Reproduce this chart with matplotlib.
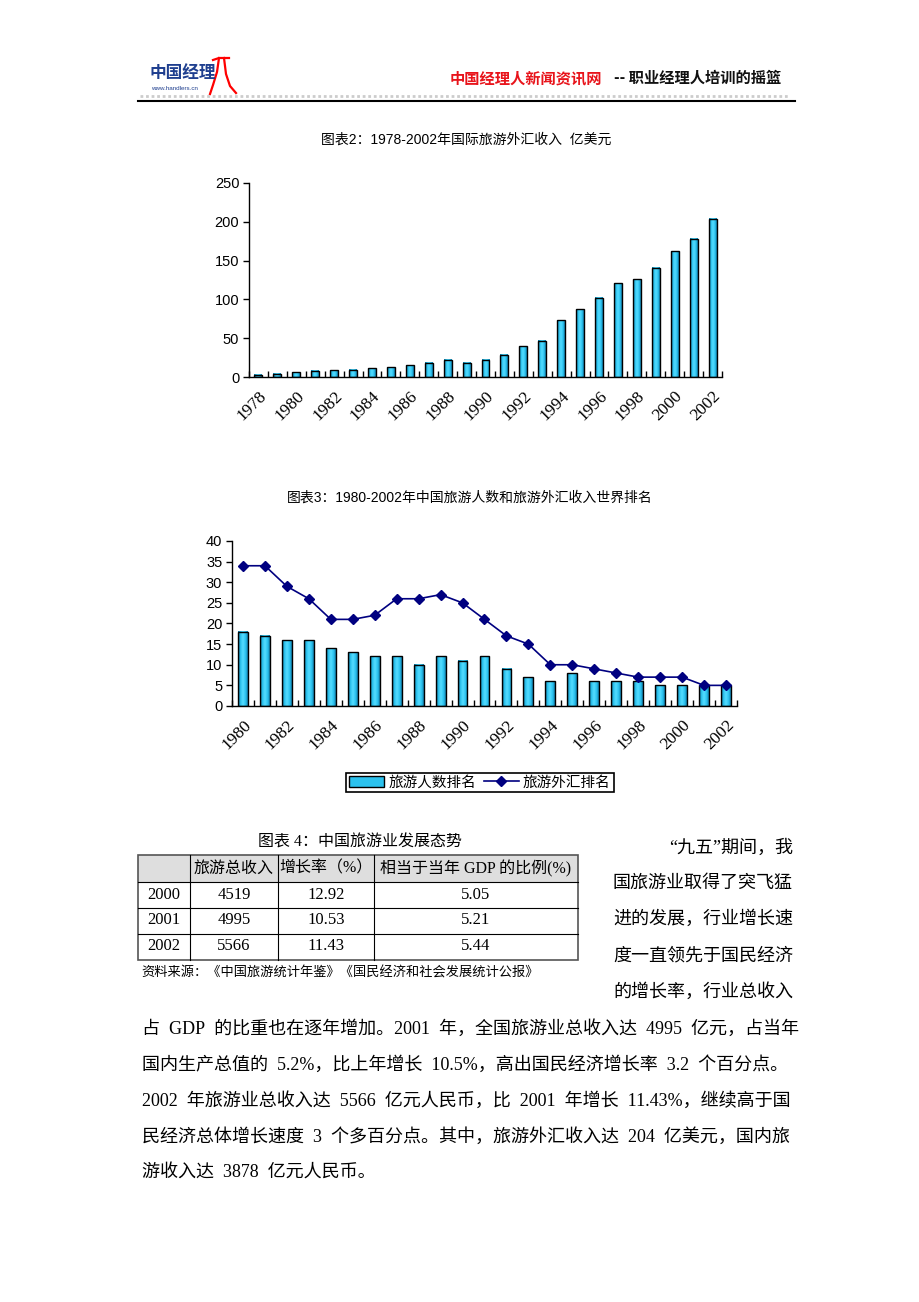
import matplotlib
matplotlib.use("Agg")
import matplotlib.pyplot as plt
import numpy as np
from matplotlib.colors import LinearSegmentedColormap
from matplotlib.patches import Rectangle, Patch
from matplotlib.lines import Line2D

CJK = "Noto Sans CJK SC"
SANS = ["Liberation Sans", CJK]
SERIF = ["Liberation Serif", CJK]
plt.rcParams['font.family'] = SANS

# 图表2 data (亿美元)
years1 = list(range(1978, 2003))
receipts = [2.63, 4.49, 6.17, 7.85, 8.43, 9.41, 11.31, 12.50, 15.31, 18.62,
            22.47, 18.60, 22.18, 28.45, 39.47, 46.83, 73.23, 87.33, 102.00,
            120.74, 126.02, 140.99, 162.24, 177.92, 203.85]

# 图表3 data (world rank)
years2 = list(range(1980, 2003))
arrivals_rank = [18, 17, 16, 16, 14, 13, 12, 12, 10, 12, 11, 12, 9, 7, 6, 8,
                 6, 6, 6, 5, 5, 5, 5]
receipts_rank = [34, 34, 29, 26, 21, 21, 22, 26, 26, 27, 25, 21, 17, 15, 10,
                 10, 9, 8, 7, 7, 7, 5, 5]

# 图表4 table
tbl_header = ["", "旅游总收入", "增长率（%）", "相当于当年 GDP 的比例(%)"]
tbl_years = ["2000", "2001", "2002"]
tbl_income = ["4519", "4995", "5566"]
tbl_growth = ["12.92", "10.53", "11.43"]
tbl_gdp = ["5.05", "5.21", "5.44"]

side_lines = ["“九五”期间，我",
              "国旅游业取得了突飞猛",
              "进的发展，行业增长速",
              "度一直领先于国民经济",
              "的增长率，行业总收入"]
body_lines = ["占 GDP 的比重也在逐年增加。2001 年，全国旅游业总收入达 4995 亿元，占当年",
              "国内生产总值的 5.2%，比上年增长 10.5%，高出国民经济增长率 3.2 个百分点。",
              "2002 年旅游业总收入达 5566 亿元人民币，比 2001 年增长 11.43%，继续高于国",
              "民经济总体增长速度 3 个多百分点。其中，旅游外汇收入达 204 亿美元，国内旅",
              "游收入达 3878 亿元人民币。"]

W, H = 920, 1302
fig = plt.figure(figsize=(W / 100, H / 100), dpi=100)

# page layer in pixel coords
page = fig.add_axes([0, 0, 1, 1])
page.set_xlim(0, W)
page.set_ylim(H, 0)
page.axis('off')


def axes_box(l, t, r, b):
    ax = fig.add_axes([l / W, 1 - b / H, (r - l) / W, (b - t) / H])
    ax.set_facecolor('none')
    return ax


cmap = LinearSegmentedColormap.from_list(
    "bar", ["#0d6a90", "#2cc2ee", "#55dcff", "#2fc6f2", "#1285b5"])
grad = np.linspace(0, 1, 64).reshape(1, -1)


def gradient_bars(ax, x, h, w):
    bars = ax.bar(x, h, width=w, facecolor='none', edgecolor='black',
                  linewidth=1, zorder=3)
    for b in bars:
        ax.imshow(grad, cmap=cmap, aspect='auto', zorder=2,
                  extent=[b.get_x(), b.get_x() + b.get_width(), 0, b.get_height()])
    return bars


def style(ax, n, years):
    for s in ['top', 'right']:
        ax.spines[s].set_visible(False)
    for s in ['left', 'bottom']:
        ax.spines[s].set_linewidth(1)
    ax.tick_params(axis='y', direction='out', length=4, width=1, labelsize=10.5, pad=3)
    for lbl in ax.get_yticklabels():
        lbl.set_fontfamily('Liberation Sans')
    ax.set_xticks(np.arange(-0.5, n, 1), minor=True)
    ax.tick_params(axis='x', which='minor', direction='in', length=4, width=1)
    idx = list(range(0, n, 2))
    ax.set_xticks(idx)
    ax.set_xticklabels([str(years[i]) for i in idx], rotation=45, ha='right',
                       rotation_mode='anchor', fontfamily='Liberation Serif',
                       fontsize=12.5)
    ax.tick_params(axis='x', which='major', length=0, pad=8)
    ax.set_xlim(-0.5, n - 0.5)


# ---- header ----
page.text(150, 73, "中国经理", color='#1f3f8f', fontsize=12, fontweight='bold',
          family=CJK, ha='left', va='center')
page.text(151, 88, "www.handlers.cn", color='#1f3f8f', fontsize=4.5,
          ha='left', va='center')
page.plot([213, 219, 229], [60, 58, 58], color='red', lw=1.6)
page.plot([219, 217, 213, 210], [58, 72, 85, 94], color='red', lw=1.6)
page.plot([224, 226, 230, 236], [58, 74, 86, 93], color='red', lw=1.6)
page.text(450, 78, "中国经理人新闻资讯网", color='#e8141b', fontsize=11,
          fontweight='bold', family=CJK, ha='left', va='center')
page.text(781, 78, "-- 职业经理人培训的摇篮", color='#111111', fontsize=11,
          fontweight='bold', family=CJK, ha='right', va='center')
page.plot([140, 790], [95.5, 95.5], color='#cccccc', lw=2, ls=(0, (1, 1)))
page.plot([138, 795], [101, 101], color='black', lw=1.5)

# ---- chart 1 ----
page.text(466, 140, "图表2：1978-2002年国际旅游外汇收入  亿美元", fontsize=10,
          family=SANS, ha='center', va='center')
ax1 = axes_box(249, 183, 722, 377)
gradient_bars(ax1, np.arange(len(years1)), receipts, 0.42)
ax1.set_ylim(0, 250)
ax1.set_yticks(range(0, 251, 50))
style(ax1, len(years1), years1)

# ---- chart 2 ----
page.text(470, 498, "图表3：1980-2002年中国旅游人数和旅游外汇收入世界排名",
          fontsize=10, family=SANS, ha='center', va='center')
ax2 = axes_box(232, 541, 737, 706)
x2 = np.arange(len(years2))
gradient_bars(ax2, x2, arrivals_rank, 0.45)
ax2.plot(x2, receipts_rank, color='#000080', lw=1.2, marker='D', ms=5, zorder=4)
ax2.set_ylim(0, 40)
ax2.set_yticks(range(0, 41, 5))
style(ax2, len(years2), years2)

handles = [Patch(facecolor='#2cc2ee', edgecolor='black', linewidth=1),
           Line2D([0], [0], color='#000080', lw=1.2, marker='D', ms=5)]
leg = fig.legend(handles, ["旅游人数排名", "旅游外汇排名"], loc='center',
                 bbox_to_anchor=(480 / W, 1 - 782.5 / H), ncol=2,
                 prop={'family': CJK, 'size': 10.5}, frameon=True,
                 fancybox=False, edgecolor='black', framealpha=1,
                 borderpad=0.2, handlelength=2.4, handletextpad=0.3,
                 columnspacing=0.5, borderaxespad=0)
leg.get_frame().set_linewidth(1.2)

# ---- table ----
page.text(360, 843, "图表 4：中国旅游业发展态势", fontsize=11.5, family=SERIF,
          ha='center', va='center')
cols = [138, 190, 278, 374, 578]
rows = [855, 882, 907.5, 933.5, 959.5]
page.add_patch(Rectangle((cols[0], rows[0]), cols[-1] - cols[0], rows[1] - rows[0],
                         facecolor='#dedede', edgecolor='none'))
for y in rows[1:-1]:
    page.plot([cols[0], cols[-1]], [y, y], color='black', lw=0.8)
for x in cols[1:-1]:
    page.plot([x, x], [rows[0], rows[-1]], color='black', lw=0.8)
page.add_patch(Rectangle((cols[0], rows[0]), cols[-1] - cols[0], rows[-1] - rows[0],
                         facecolor='none', edgecolor='#555555', lw=1.2))
centers = [(cols[i] + cols[i + 1]) / 2 for i in range(4)]
for i, t in enumerate(tbl_header):
    page.text(centers[i], (rows[0] + rows[1]) / 2, t, fontsize=11.5, family=SERIF,
              ha='center', va='center')
for r, vals in enumerate(zip(tbl_years, tbl_income, tbl_growth, tbl_gdp)):
    yc = (rows[r + 1] + rows[r + 2]) / 2
    for i, v in enumerate(vals):
        page.text(centers[i], yc, v, fontsize=12, family=SERIF,
                  ha='center', va='center')
page.text(141, 973, "资料来源：《中国旅游统计年鉴》《国民经济和社会发展统计公报》",
          fontsize=9.5, family=SERIF, ha='left', va='center')

# ---- body text ----
side_y = [848, 883, 919, 956, 992]
for y, t in zip(side_y, side_lines):
    page.text(793, y, t, fontsize=13, family=SERIF, ha='right', va='center')
body_y = [1029, 1065, 1101, 1137, 1173]
for y, t in zip(body_y, body_lines):
    # SimSun spaces are half an em wide, use en spaces to keep line length
    page.text(142, y, t.replace(" ", "\u2002"), fontsize=13, family=SERIF,
              ha='left', va='center')

fig.savefig("out.png", dpi=100)
